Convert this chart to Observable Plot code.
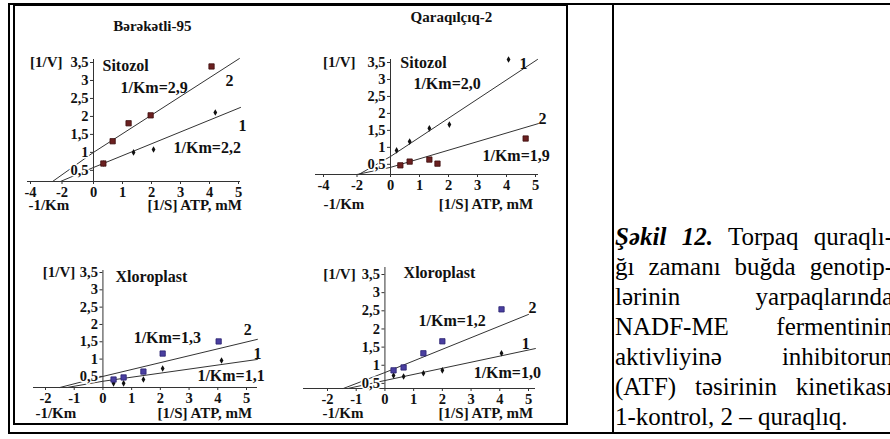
<!DOCTYPE html>
<html><head><meta charset="utf-8">
<script src="https://cdn.jsdelivr.net/npm/d3@7"></script>
<script src="https://cdn.jsdelivr.net/npm/@observablehq/plot@0.6"></script>
<style>
body{margin:0;width:890px;height:439px;overflow:hidden;background:#fff;position:relative;font-family:"Liberation Serif","Times New Roman",serif;}
.ln{position:absolute;background:#000;}
#cap{position:absolute;left:615px;top:222px;width:278px;font-size:25px;line-height:30px;color:#000;}
#cap div{white-space:nowrap;text-align:justify;text-align-last:justify;}
#cap div.last{text-align-last:left;}
</style></head><body>
<div class="ln" style="left:8px;top:3px;width:882px;height:2px"></div>
<div class="ln" style="left:13px;top:3px;width:555px;height:3px"></div>
<div class="ln" style="left:8px;top:3px;width:2px;height:431px"></div>
<div class="ln" style="left:13px;top:3px;width:2px;height:422px"></div>
<div class="ln" style="left:13px;top:423px;width:555px;height:2px"></div>
<div class="ln" style="left:566px;top:3px;width:2px;height:422px"></div>
<div class="ln" style="left:612px;top:3px;width:2px;height:431px"></div>
<div class="ln" style="left:8px;top:432px;width:882px;height:2px"></div>
<div id="charts"></div>
<div id="cap">
<div><b><i>Şəkil 12.</i></b> Torpaq quraqlı-</div>
<div>ğı zamanı buğda genotip-</div>
<div>lərinin yarpaqlarında</div>
<div>NADF-ME fermentinin</div>
<div>aktivliyinə inhibitorun</div>
<div>(ATF) təsirinin kinetikası</div>
<div class="last">1-kontrol, 2 – quraqlıq.</div>
</div>
<script>
// ---- tick labels ----
const xTicksSitozol = [-4, -2, 0, 1, 2, 3, 4, 5];
const xTicksXloroplast = [-2, -1, 0, 1, 2, 3, 4, 5];
const yTicks = [0.5, 1, 1.5, 2, 2.5, 3, 3.5];

// ---- Panel 1: Bərəkətli-95, Sitozol ----
const p1Ctrl_x = [0.34, 1.38, 2.07, 4.2];          // series 1 (kontrol)
const p1Ctrl_y = [0.69, 1.0, 1.08, 2.11];
const p1Drought_x = [0.34, 0.66, 1.21, 1.97, 4.07]; // series 2 (quraqlıq)
const p1Drought_y = [0.69, 1.31, 1.81, 2.03, 3.39];
const p1Line1 = [-2.1, 0.58, 5.07, 2.25];  // x-intercept, y at x=0, x end, y end
const p1Line2 = [-2.6, 1.0, 5.03, 3.61];

// ---- Panel 2: Qaraqılçıq-2, Sitozol ----
const p2Ctrl_x = [0.21, 0.66, 1.34, 2.03, 4.07];
const p2Ctrl_y = [0.91, 1.17, 1.56, 1.67, 3.59];
const p2Drought_x = [0.34, 0.66, 1.34, 1.62, 4.66];
const p2Drought_y = [0.47, 0.58, 0.64, 0.52, 1.26];
const p2Line1 = [-1.9, 0.73, 5.07, 3.59];
const p2Line2 = [-2.0, 0.41, 5.1, 1.70];

// ---- Panel 3: Bərəkətli-95, Xloroplast ----
const p3Ctrl_x = [0.37, 0.72, 1.41, 2.08, 4.13];
const p3Ctrl_y = [0.30, 0.30, 0.41, 0.73, 0.96];
const p3Drought_x = [0.37, 0.72, 1.41, 2.08, 4.03];
const p3Drought_y = [0.41, 0.47, 0.64, 1.16, 1.51];
const p3Line1 = [-1.25, 0.36, 5.38, 0.99];
const p3Line2 = [-1.5, 0.5, 5.38, 1.57];

// ---- Panel 4: Qaraqılçıq-2, Xloroplast ----
const p4Ctrl_x = [0.30, 0.65, 1.34, 2.0, 4.06];
const p4Ctrl_y = [0.72, 0.69, 0.78, 0.86, 1.33];
const p4Drought_x = [0.30, 0.65, 1.34, 2.0, 4.06];
const p4Drought_y = [0.86, 0.94, 1.33, 1.66, 2.54];
const p4Line1 = [-1.3, 0.58, 5.24, 1.46];
const p4Line2 = [-1.45, 0.80, 5.0, 2.40];

const fmt = d => String(d).replace(".", ",");
const FONT = "'Liberation Serif', 'Times New Roman', serif";

function panel(cfg) {
  const pts = (xs, ys) => xs.map((x, i) => ({x, y: ys[i]}));
  const base = cfg.yDomain[0];
  const line = p => [{x: p[0], y: base}, {x: 0, y: p[1]}, {x: p[2], y: p[3]}];
  const W = 890, H = 439;
  const textMarks = ["start", "middle", "end"].map(a =>
    Plot.text(cfg.texts.filter(d => d.a === a), {x: "x", y: "y", text: "t", textAnchor: a,
      fontSize: "fs", fontWeight: "bold", fill: "#111"}));
  return Plot.plot({
    width: W, height: H,
    marginLeft: cfg.frame[0], marginRight: W - cfg.frame[1],
    marginTop: cfg.frame[2], marginBottom: H - cfg.frame[3],
    style: {background: "transparent", fontFamily: FONT, color: "#111", overflow: "visible"},
    x: {type: "linear", domain: cfg.xDomain, range: cfg.xRange},
    y: {type: "linear", domain: cfg.yDomain, range: cfg.yRange, axis: null},
    marks: [
      Plot.ruleY([base], {stroke: "#333", strokeWidth: 1}),
      Plot.ruleX([0], {stroke: "#333", strokeWidth: 1}),
      Plot.axisX({ticks: cfg.xTicks, tickSize: 3, tickPadding: 2, tickFormat: fmt, label: null,
                  fontSize: 14.5, fontWeight: "bold", stroke: "#333"}),
      Plot.line(line(cfg.l1), {x: "x", y: "y", stroke: "#333", strokeWidth: 1}),
      Plot.line(line(cfg.l2), {x: "x", y: "y", stroke: "#333", strokeWidth: 1}),
      Plot.ruleY(yTicks, {y: d => d, x1: 0, x2: 0, insetLeft: -3, stroke: "#333"}),
      Plot.text(yTicks, {x: 0, y: d => d, text: fmt, textAnchor: "end", dx: -5,
                         fontSize: 14.5, fontWeight: "bold", stroke: "white", strokeWidth: 3,
                         paintOrder: "stroke", fill: "#111"}),
      Plot.dot(pts(cfg.c1x, cfg.c1y), {x: "x", y: "y", symbol: "diamond", r: 2, fill: "#111"}),
      Plot.dot(pts(cfg.c2x, cfg.c2y), {x: "x", y: "y", symbol: "square", r: 3,
                                        fill: cfg.sqFill, stroke: cfg.sqStroke, strokeWidth: 0.8}),
      ...textMarks
    ]
  });
}

const T = (t, x, y, a = "start", fs = 16) => ({t, x, y, a, fs});

const panels = [
  {frame: [27, 240, 59, 181], xDomain: [-4, 0, 5], xRange: [30, 93, 238],
   yDomain: [0.19, 3.5], yRange: [181, 62], xTicks: xTicksSitozol,
   c1x: p1Ctrl_x, c1y: p1Ctrl_y, c2x: p1Drought_x, c2y: p1Drought_y, l1: p1Line1, l2: p1Line2,
   sqFill: "#6b2020", sqStroke: "#3d0f0f",
   texts: [T("Bərəkətli-95", 2.03, 4.52, "middle", 15), T("[1/V]", -1.97, 3.5, "end", 15),
           T("Sitozol", 0.31, 3.41), T("1/Km=2,9", 0.93, 2.80), T("2", 4.69, 3.0, "middle"),
           T("1", 5.14, 1.75, "middle"), T("1/Km=2,2", 2.76, 1.13),
           T("-1/Km", -4.13, -0.48, "start", 15), T("[1/S] ATP, mM", 1.86, -0.48, "start", 15)]},
  {frame: [315, 538, 59, 174], xDomain: [-4, 0, 5], xRange: [323, 390, 535],
   yDomain: [0.2, 3.5], yRange: [174, 62], xTicks: xTicksSitozol,
   c1x: p2Ctrl_x, c1y: p2Ctrl_y, c2x: p2Drought_x, c2y: p2Drought_y, l1: p2Line1, l2: p2Line2,
   sqFill: "#6b2020", sqStroke: "#3d0f0f",
   texts: [T("Qaraqılçıq-2", 2.1, 4.83, "middle", 15), T("[1/V]", -2.09, 3.5, "end", 15),
           T("Sitozol", 0.34, 3.5), T("1/Km=2,0", 0.79, 2.88), T("1", 4.59, 3.47, "middle"),
           T("2", 5.24, 1.85, "middle"), T("1/Km=1,9", 3.17, 0.76),
           T("-1/Km", -4.0, -0.68, "start", 15), T("[1/S] ATP, mM", 1.66, -0.68, "start", 15)]},
  {frame: [33, 257, 270, 387], xDomain: [-2, 5], xRange: [45, 246],
   yDomain: [0.18, 3.5], yRange: [387, 272], xTicks: xTicksXloroplast,
   c1x: p3Ctrl_x, c1y: p3Ctrl_y, c2x: p3Drought_x, c2y: p3Drought_y, l1: p3Line1, l2: p3Line2,
   sqFill: "#4a3fa0", sqStroke: "#2a2270",
   texts: [T("[1/V]", -0.96, 3.5, "end", 15), T("Xloroplast", 0.44, 3.38), T("1/Km=1,3", 1.07, 1.60),
           T("2", 5.04, 1.83, "middle"), T("1", 5.38, 1.16, "middle"), T("1/Km=1,1", 3.29, 0.53),
           T("-1/Km", -2.35, -0.57, "start", 15), T("[1/S] ATP, mM", 1.9, -0.57, "start", 15)]},
  {frame: [303, 535, 267, 388], xDomain: [-2, 5], xRange: [327, 528],
   yDomain: [0.36, 3.5], yRange: [388, 274], xTicks: xTicksXloroplast,
   c1x: p4Ctrl_x, c1y: p4Ctrl_y, c2x: p4Drought_x, c2y: p4Drought_y, l1: p4Line1, l2: p4Line2,
   sqFill: "#4a3fa0", sqStroke: "#2a2270",
   texts: [T("[1/V]", -1.02, 3.5, "end", 15), T("Xloroplast", 0.65, 3.55), T("2", 5.14, 2.59, "middle"),
           T("1/Km=1,2", 1.17, 2.23), T("1", 4.9, 1.60, "middle"), T("1/Km=1,0", 3.09, 0.78),
           T("-1/Km", -2.17, -0.33, "start", 15), T("[1/S] ATP, mM", 1.87, -0.33, "start", 15)]}
];

const host = document.getElementById("charts");
for (const cfg of panels) {
  const svg = panel(cfg);
  svg.style.position = "absolute";
  svg.style.left = "0px";
  svg.style.top = "0px";
  host.appendChild(svg);
}
</script>
</body></html>
